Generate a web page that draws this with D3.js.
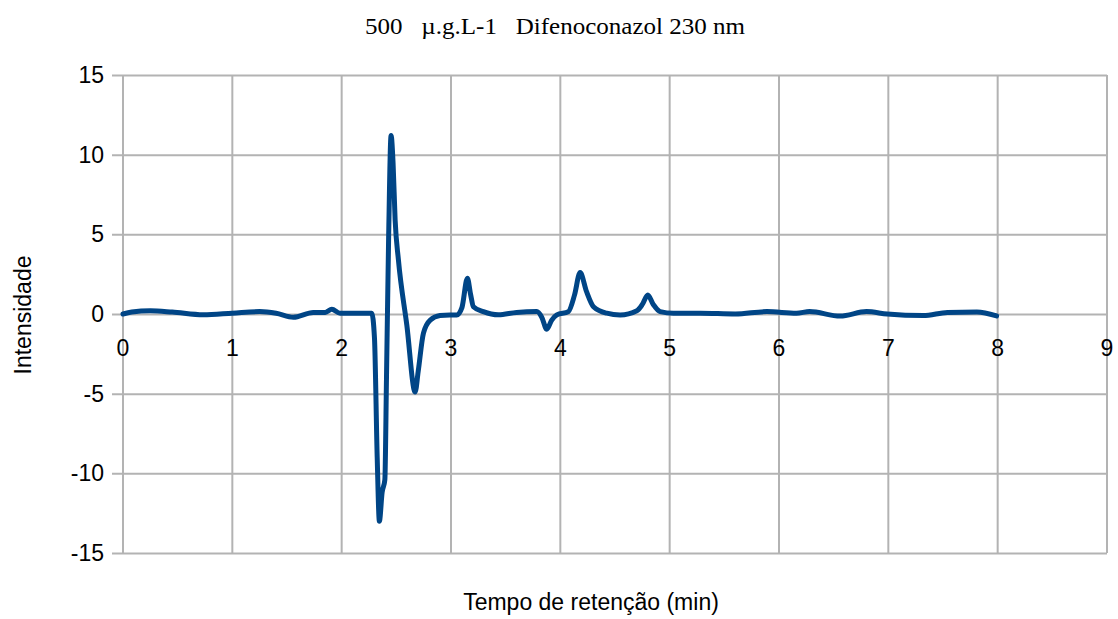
<!DOCTYPE html>
<html>
<head>
<meta charset="utf-8">
<script src="https://cdn.jsdelivr.net/npm/d3@7"></script>
<style>
  body { margin: 0; background: #fff; }
  svg { display: block; }
</style>
</head>
<body>
<div id="chart"></div>
<script>
// Chromatogram data
const tempo = [
    0, 0.08, 0.25, 0.45, 0.735, 1.0, 1.25, 1.4, 1.558, 1.74, 1.85, 1.91, 1.985, 2.1, 2.275,
    2.30, 2.325, 2.345, 2.37, 2.395, 2.41, 2.43, 2.452, 2.47, 2.489, 2.519, 2.596, 2.672, 2.70,
    2.748, 2.81, 2.90, 2.99, 3.053, 3.10, 3.15, 3.18, 3.205, 3.296, 3.434, 3.60, 3.785, 3.83,
    3.876, 3.92, 3.968, 4.074, 4.13, 4.181, 4.24, 4.303, 4.425, 4.547, 4.70, 4.75, 4.80, 4.85,
    4.913, 5.035, 5.28, 5.6, 5.89, 6.16, 6.28, 6.56, 6.80, 6.99, 7.32, 7.54, 7.81, 7.99
];
const intensidade = [
    0, 0.12, 0.2, 0.12, -0.05, 0.05, 0.15, 0.05, -0.2, 0.1, 0.1, 0.3, 0.05, 0.05, 0.05,
    -1.5, -9, -13.0, -11.2, -10.4, -4, 5, 11.2, 9.5, 5.9, 3.4, -0.7, -4.9, -3.6,
    -1.2, -0.38, -0.1, -0.06, -0.06, 0.4, 2.24, 1.2, 0.46, 0.15, -0.05, 0.1, 0.15, -0.2,
    -0.96, -0.4, -0.06, 0.15, 1.2, 2.6, 1.4, 0.46, 0.05, -0.06, 0.2, 0.6, 1.19, 0.6,
    0.15, 0.05, 0.05, 0.0, 0.15, 0.05, 0.15, -0.13, 0.15, 0.0, -0.1, 0.1, 0.13, -0.12
];
const xTicks = [0, 1, 2, 3, 4, 5, 6, 7, 8, 9];
const yTicks = [-15, -10, -5, 0, 5, 10, 15];

const titulo = "500   \u00b5.g.L-1   Difenoconazol 230 nm";
const tituloX = "Tempo de retenção (min)";
const tituloY = "Intensidade";

const W = 1118, H = 619;
const margin = { top: 75, right: 11, bottom: 66, left: 123 };
const width = W - margin.left - margin.right;
const height = H - margin.top - margin.bottom;

function drawChart() {
    const svg = d3.select("#chart")
        .append("svg")
        .attr("width", W)
        .attr("height", H);

    const g = svg.append("g")
        .attr("transform", `translate(${margin.left},${margin.top})`);

    const x = d3.scaleLinear().domain([0, 9]).range([0, width]);
    const y = d3.scaleLinear().domain([-15, 15]).range([height, 0]);

    // horizontal grid + y ticks (plain hyphen for negatives, like the original)
    const yAxis = g.append("g")
        .call(d3.axisLeft(y)
            .tickValues(yTicks)
            .tickFormat(d => String(d))
            .tickSize(-width)
            .tickPadding(19));
    yAxis.select(".domain").remove();
    yAxis.selectAll(".tick line")
        .attr("x1", -11)
        .attr("stroke", "#b3b3b3")
        .attr("stroke-width", 2);
    yAxis.selectAll("text")
        .attr("font-family", "Liberation Sans, Arial, sans-serif")
        .attr("font-size", "23px")
        .attr("fill", "#000");

    // vertical grid
    g.append("g").selectAll("line")
        .data(xTicks)
        .enter()
        .append("line")
        .attr("x1", d => x(d))
        .attr("x2", d => x(d))
        .attr("y1", 0)
        .attr("y2", height)
        .attr("stroke", "#b3b3b3")
        .attr("stroke-width", 2);

    // x tick labels sit under the zero line
    g.append("g").selectAll("text")
        .data(xTicks)
        .enter()
        .append("text")
        .attr("x", d => x(d))
        .attr("y", y(0) + 42)
        .attr("text-anchor", "middle")
        .attr("font-family", "Liberation Sans, Arial, sans-serif")
        .attr("font-size", "23px")
        .text(d => d);

    // the trace
    const pts = tempo.map((t, i) => [t, intensidade[i]]);
    const line = d3.line()
        .x(d => x(d[0]))
        .y(d => y(d[1]))
        .curve(d3.curveMonotoneX);

    g.append("path")
        .datum(pts)
        .attr("fill", "none")
        .attr("stroke", "#004586")
        .attr("stroke-width", 5)
        .attr("stroke-linejoin", "round")
        .attr("stroke-linecap", "round")
        .attr("d", line);

    // titles
    svg.append("text")
        .attr("x", 555)
        .attr("y", 34)
        .attr("text-anchor", "middle")
        .attr("font-family", "Liberation Serif, serif")
        .attr("font-size", "23px")
        .attr("textLength", 380)
        .attr("lengthAdjust", "spacingAndGlyphs")
        .style("white-space", "pre")
        .text(titulo);

    svg.append("text")
        .attr("x", 591)
        .attr("y", 610)
        .attr("text-anchor", "middle")
        .attr("font-family", "Liberation Sans, Arial, sans-serif")
        .attr("font-size", "23px")
        .text(tituloX);

    svg.append("text")
        .attr("transform", `translate(31,315) rotate(-90)`)
        .attr("text-anchor", "middle")
        .attr("font-family", "Liberation Sans, Arial, sans-serif")
        .attr("font-size", "23px")
        .text(tituloY);
}

document.addEventListener('DOMContentLoaded', function() {
    drawChart();
});
</script>
</body>
</html>
